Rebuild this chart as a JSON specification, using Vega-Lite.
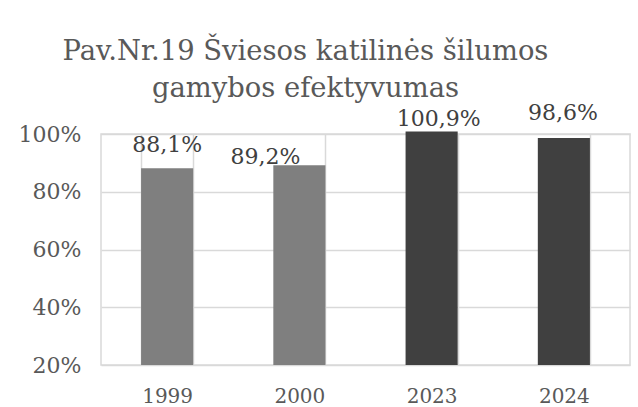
{
  "$schema": "https://vega.github.io/schema/vega-lite/v6.json",
  "width": 529,
  "height": 231,
  "autosize": {"type": "none"},
  "padding": {"left": 101, "top": 134, "right": 8, "bottom": 42},
  "background": "white",
  "title": {
    "text": ["Pav.Nr.19 Šviesos katilinės šilumos", "gamybos efektyvumas"],
    "anchor": "middle",
    "dx": -60,
    "offset": 0,
    "font": "DejaVu Serif",
    "fontSize": 27.4,
    "fontWeight": "normal",
    "color": "#595959",
    "lineHeight": 37
  },
  "data": {
    "values": [
      {"year": "1999", "value": 88.1, "label": "88,1%", "group": "old"},
      {"year": "2000", "value": 89.2, "label": "89,2%", "group": "old"},
      {"year": "2023", "value": 100.9, "label": "100,9%", "group": "new"},
      {"year": "2024", "value": 98.6, "label": "98,6%", "group": "new"}
    ]
  },
  "encoding": {
    "x": {
      "field": "year",
      "type": "nominal",
      "sort": null,
      "scale": {"paddingInner": 0.606, "paddingOuter": 0.303},
      "axis": {
        "title": null,
        "labelAngle": 0,
        "tickBand": "extent",
        "grid": true,
        "ticks": false,
        "domain": false,
        "labelPadding": 21,
        "labelFont": "DejaVu Serif",
        "labelFontSize": 20,
        "labelColor": "#595959"
      }
    },
    "y": {
      "field": "value",
      "type": "quantitative",
      "scale": {"domain": [20, 100], "zero": false, "nice": false},
      "axis": {
        "title": null,
        "values": [20, 40, 60, 80, 100],
        "labelExpr": "datum.value + '%'",
        "grid": true,
        "ticks": false,
        "domain": false,
        "labelPadding": 20,
        "labelFont": "DejaVu Serif",
        "labelFontSize": 22,
        "labelColor": "#595959"
      }
    }
  },
  "layer": [
    {
      "mark": {"type": "bar"},
      "encoding": {
        "y2": {"datum": 20},
        "color": {
          "field": "group",
          "type": "nominal",
          "scale": {"domain": ["old", "new"], "range": ["#7f7f7f", "#404040"]},
          "legend": null
        }
      }
    },
    {
      "transform": [{"filter": "datum.year == '1999'"}],
      "mark": {"type": "text", "baseline": "alphabetic", "dy": -16, "dx": 0, "font": "DejaVu Serif", "fontSize": 22, "color": "#404040"},
      "encoding": {"text": {"field": "label"}}
    },
    {
      "transform": [{"filter": "datum.year == '2000'"}],
      "mark": {"type": "text", "baseline": "alphabetic", "dy": -1, "dx": -34, "font": "DejaVu Serif", "fontSize": 22, "color": "#404040"},
      "encoding": {"text": {"field": "label"}}
    },
    {
      "transform": [{"filter": "datum.year == '2023'"}],
      "mark": {"type": "text", "baseline": "alphabetic", "dy": -5, "dx": 7, "font": "DejaVu Serif", "fontSize": 22, "color": "#404040"},
      "encoding": {"text": {"field": "label"}}
    },
    {
      "transform": [{"filter": "datum.year == '2024'"}],
      "mark": {"type": "text", "baseline": "alphabetic", "dy": -18, "dx": -1, "font": "DejaVu Serif", "fontSize": 22, "color": "#404040"},
      "encoding": {"text": {"field": "label"}}
    }
  ],
  "config": {
    "view": {"stroke": "#d9d9d9", "strokeWidth": 1.5},
    "axis": {"gridColor": "#d9d9d9", "gridWidth": 1.5, "gridOpacity": 1}
  }
}
